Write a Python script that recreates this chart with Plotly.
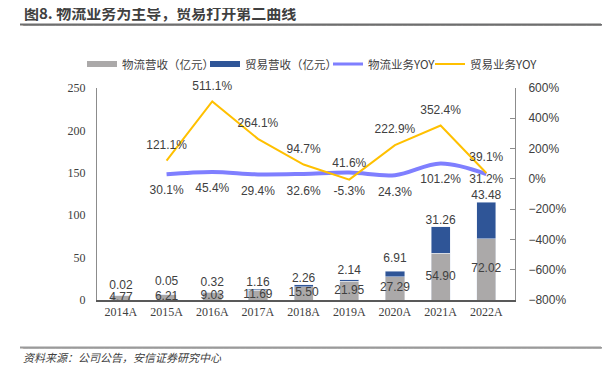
import plotly.graph_objects as go

years = ["2014A", "2015A", "2016A", "2017A", "2018A", "2019A", "2020A", "2021A", "2022A"]
logistics_rev = [4.77, 6.21, 9.03, 11.69, 15.50, 21.95, 27.29, 54.90, 72.02]
trade_rev = [0.02, 0.05, 0.32, 1.16, 2.26, 2.14, 6.91, 31.26, 43.48]
logistics_yoy = [None, 30.1, 45.4, 29.4, 32.6, 41.6, 24.3, 101.2, 31.2]
trade_yoy = [None, 121.1, 511.1, 264.1, 94.7, -5.3, 222.9, 352.4, 39.1]

C_GRAY = "#ABA9A9"
C_BLUE = "#2F5597"
C_PURPLE = "#7F7FFF"
C_YELLOW = "#FFC000"
TXT = "#404040"
SANS = "Liberation Sans, Arial, sans-serif"
SERIF = "Liberation Serif, Times New Roman, serif"
CJK = "Noto Sans CJK SC, sans-serif"
MONO = "DejaVu Sans Mono, monospace"

# page offset (browser body margin)
OFF = 8
W, H = 610 - OFF, 368 - OFF
# plot area in reference (window) pixels
PL, PR, PT, PB = 97, 515, 88, 300
L, R, T, B = PL - OFF, W - (PR - OFF), PT - OFF, H - (PB - OFF)
pw, ph = W - L - R, H - T - B


def px(x):
    return (x - OFF - L) / pw


def py(y):
    return (H - B - (y - OFF)) / ph


fig = go.Figure()

fig.add_bar(x=years, y=logistics_rev, marker_color=C_GRAY, showlegend=False, yaxis="y")
fig.add_bar(x=years, y=trade_rev, marker_color=C_BLUE, showlegend=False, yaxis="y")

lab_font = dict(family=SANS, size=12, color=TXT)

# bar labels
fig.add_scatter(x=years, y=[v / 2 for v in logistics_rev], mode="text",
                text=[f"{v:.2f}" for v in logistics_rev], textposition="middle center",
                textfont=lab_font, showlegend=False, yaxis="y", hoverinfo="skip", cliponaxis=False)
totals = [a + b for a, b in zip(logistics_rev, trade_rev)]
bar_lab_size = [4.5, 8.8, 2.9, 0, 0, 2.9, 7.7, 0, 0]
fig.add_scatter(x=years, y=totals, mode="markers+text", marker=dict(size=bar_lab_size, opacity=0),
                text=[f"{v:.2f}" for v in trade_rev], textposition="top center",
                textfont=lab_font, showlegend=False, yaxis="y", hoverinfo="skip", cliponaxis=False)

# lines
fig.add_scatter(x=years, y=logistics_yoy, mode="lines", line=dict(color=C_PURPLE, width=4, shape="spline"),
                showlegend=False, yaxis="y2")
fig.add_scatter(x=years, y=trade_yoy, mode="lines", line=dict(color=C_YELLOW, width=2),
                showlegend=False, yaxis="y2")

log_pos = ["bottom center"] * 9
log_pos[5] = "top center"
log_size = [0, 16.3, 16.3, 16.3, 17, 2.9, 17.5, 14.7, 0]
trade_pos = ["top center"] * 9
trade_pos[5] = "bottom center"
trade_size = [0, 12.5, 12.5, 12.5, 12.5, 8.3, 12.5, 12.5, 12.5]
fig.add_scatter(x=years, y=logistics_yoy, mode="markers+text", marker=dict(size=log_size, opacity=0),
                text=[f"{v:.1f}%" if v is not None else "" for v in logistics_yoy], textposition=log_pos,
                textfont=lab_font, showlegend=False, yaxis="y2", hoverinfo="skip", cliponaxis=False)
fig.add_scatter(x=years, y=trade_yoy, mode="markers+text", marker=dict(size=trade_size, opacity=0),
                text=[f"{v:.1f}%" if v is not None else "" for v in trade_yoy], textposition=trade_pos,
                textfont=lab_font, showlegend=False, yaxis="y2", hoverinfo="skip", cliponaxis=False)

# legend entries, one legend each so they can be placed like the reference (x = text start)
legend_items = [("物流营收（亿元）", C_GRAY, 6, 122), ("贸易营收（亿元）", C_BLUE, 6, 245),
                ("物流业务YOY", C_PURPLE, 3, 368), ("贸易业务YOY", C_YELLOW, 2, 470)]
legend_layout = {}
for i, (name, col, w, tx) in enumerate(legend_items):
    key = "legend" if i == 0 else f"legend{i + 1}"
    fig.add_scatter(x=[None], y=[None], mode="lines", line=dict(color=col, width=w), name=name,
                    legend=key)
    legend_layout[key] = dict(x=px(tx - 40), y=py(64), xanchor="left", yanchor="middle",
                              orientation="h", font=dict(family=CJK, size=11.5, color=TXT),
                              bgcolor="rgba(0,0,0,0)", borderwidth=0, itemwidth=30)


def text_rule(x0, y, color, n):
    # horizontal rule made of box-drawing glyphs
    return dict(text="\u2501" * n, xref="paper", yref="paper", x=px(x0), y=py(y),
                xanchor="left", yanchor="middle", showarrow=False,
                font=dict(family=MONO, size=9, color=color))


fig.update_layout(
    width=W, height=H, autosize=False,
    margin=dict(l=L, r=R, t=T, b=B, pad=0, autoexpand=False),
    paper_bgcolor="white", plot_bgcolor="white",
    barmode="stack", bargap=0.58,
    font=dict(family=CJK, color=TXT),
    xaxis=dict(showgrid=False, showline=True, linecolor="#595959", linewidth=2,
               tickfont=dict(family=SERIF, size=12, color=TXT), ticks="", zeroline=False),
    yaxis=dict(range=[0, 250], dtick=50, showgrid=False, showline=True, linecolor="#8C8C8C",
               linewidth=1, ticks="", tickfont=dict(family=SERIF, size=12, color=TXT), zeroline=False,
               ticklabelstandoff=8),
    yaxis2=dict(range=[-800, 600], dtick=200, overlaying="y", side="right", showgrid=False,
                showline=True, linecolor="#8C8C8C", linewidth=1, ticks="inside", ticklen=5,
                tickcolor="#8C8C8C", ticksuffix="%", tickfont=dict(family=SANS, size=12, color=TXT),
                zeroline=False, ticklabelstandoff=10),
    annotations=[
        text_rule(20, 24.5, "#6E6E6E", 107),
        text_rule(20, 347.5, "#9A9A9A", 107),
        dict(text="<b>图8. 物流业务为主导，贸易打开第二曲线</b>", xref="paper", yref="paper",
             x=px(22), y=py(13), xanchor="left", yanchor="middle", showarrow=False,
             font=dict(family=CJK, size=15, color="#404040")),
        dict(text="资料来源：公司公告，安信证券研究中心", xref="paper", yref="paper",
             x=px(21), y=py(357), xanchor="left", yanchor="middle", showarrow=False,
             font=dict(family=CJK, size=11, color="#404040", style="italic")),
    ],
    shapes=[
        dict(type="line", xref="paper", yref="paper", x0=px(20), x1=px(601), y0=py(24.5), y1=py(24.5),
             line=dict(color="#6E6E6E", width=2)),
        dict(type="line", xref="paper", yref="paper", x0=px(20), x1=px(601), y0=py(347.5), y1=py(347.5),
             line=dict(color="#9A9A9A", width=2)),
    ],
    **legend_layout,
)

fig.write_html("out.html")
